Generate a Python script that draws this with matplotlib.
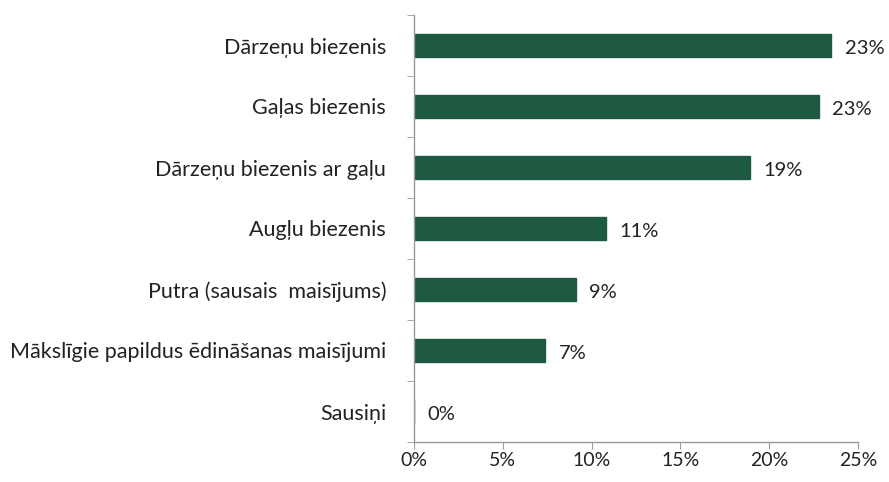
import matplotlib.pyplot as plt
from matplotlib.ticker import FuncFormatter, FixedLocator

categories = ['Dārzeņu biezenis', 'Gaļas biezenis', 'Dārzeņu biezenis ar gaļu',
              'Augļu biezenis', 'Putra (sausais  maisījums)',
              'Mākslīgie papildus ēdināšanas maisījumi', 'Sausiņi']
values = [23.5, 22.8, 18.9, 10.8, 9.1, 7.4, 0.0]
labels = ['23%', '23%', '19%', '11%', '9%', '7%', '0%']

plt.rcParams['font.family'] = ['Lato', 'DejaVu Sans']

fig = plt.figure(figsize=(8.89, 4.82), dpi=100)
ax = fig.add_axes([414 / 889, (482 - 442) / 482, 444 / 889, 427 / 482])

y = list(range(len(categories)))[::-1]
ax.barh(y, values, height=0.38, color='#1d5941', edgecolor='#1d5941')

for yi, v, lab in zip(y, values, labels):
    ax.text(v + 0.75, yi - 0.05, lab, va='center', ha='left', fontsize=14.5, color='#222222')

ax.set_xlim(0, 25)
ax.set_ylim(-0.5, len(categories) - 0.5)
ax.set_xticks([0, 5, 10, 15, 20, 25])
ax.xaxis.set_major_formatter(FuncFormatter(lambda x, p: f'{int(x)}%'))
ax.set_yticks(y)
ax.set_yticklabels(categories)
ax.yaxis.set_minor_locator(FixedLocator([i + 0.5 for i in range(-1, len(categories))]))

for s in ['top', 'right']:
    ax.spines[s].set_visible(False)
for s in ['left', 'bottom']:
    ax.spines[s].set_color('#999999')
    ax.spines[s].set_linewidth(1)

ax.tick_params(axis='y', which='major', length=0, pad=20, labelsize=15.5, labelcolor='#222222')
ax.tick_params(axis='y', which='minor', length=5, color='#999999')
ax.tick_params(axis='x', length=5, color='#999999', pad=2, labelsize=14, labelcolor='#222222')

fig.savefig('out.png', dpi=100, facecolor='white')
